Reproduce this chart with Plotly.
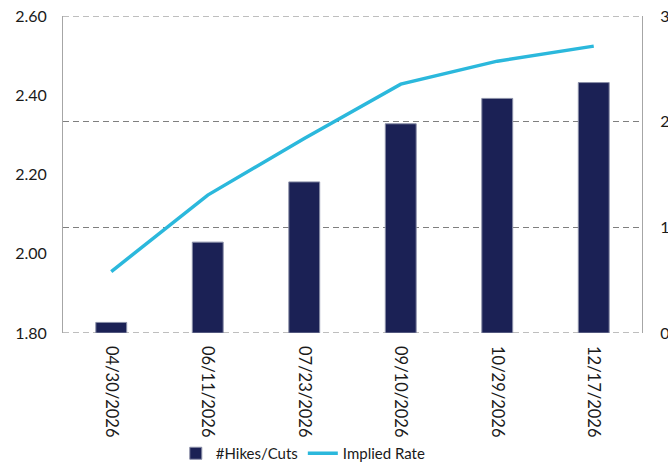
import plotly.graph_objects as go

dates = ["04/30/2026", "06/11/2026", "07/23/2026", "09/10/2026", "10/29/2026", "12/17/2026"]
hikes_cuts = [0.10, 0.86, 1.43, 1.98, 2.22, 2.37]
implied_rate = [1.955, 2.148, 2.291, 2.428, 2.486, 2.524]
left_ticks = [1.80, 2.00, 2.20, 2.40, 2.60]
right_ticks = [0, 1, 2, 3]

FONT = "Lato"
GRID = "#7F7F7F"
fig = go.Figure()
fig.add_trace(go.Bar(
    x=dates, y=hikes_cuts, name="#Hikes/Cuts", yaxis="y2",
    marker=dict(color="#1B2155", line=dict(color="#8A8FA8", width=1)),
))
fig.add_trace(go.Scatter(
    x=dates, y=implied_rate, name="Implied Rate", mode="lines", yaxis="y",
    line=dict(color="#2BB8DC", width=3.5),
))

# dashed gridlines at the range ends of the right axis (plotly skips them)
for v in (right_ticks[0], right_ticks[-1]):
    fig.add_shape(type="line", xref="paper", x0=0, x1=1, yref="y2", y0=v, y1=v,
                  line=dict(color=GRID, width=1.2, dash="6px,4px"), layer="below")

fig.update_layout(
    width=668, height=470,
    margin=dict(l=63, r=26, t=16, b=137),
    paper_bgcolor="white", plot_bgcolor="white",
    font=dict(family=FONT, size=15, color="#1a1a1a"),
    bargap=0.68,
    showlegend=True,
    legend=dict(orientation="h", x=0.415, xanchor="center", yref="container",
                y=0.0, yanchor="bottom", font=dict(size=15), traceorder="normal",
                itemwidth=30, tracegroupgap=0),
    xaxis=dict(type="category", tickangle=90, showgrid=False, showline=False,
               ticks="", zeroline=False, automargin=False, ticklabelstandoff=12,
               tickfont=dict(size=16.5)),
    yaxis=dict(range=[1.80, 2.60], tickvals=left_ticks, tickformat=".2f",
               showgrid=False, zeroline=False, showline=True, linecolor="#A6A6A6",
               linewidth=1, ticks="", ticklabelstandoff=12, automargin=False,
               tickfont=dict(size=16)),
    yaxis2=dict(range=[0, 3], tickvals=right_ticks, overlaying="y", side="right",
                showgrid=True, gridcolor=GRID, griddash="6px,4px", gridwidth=1.2,
                zeroline=False, showline=True, linecolor="#A6A6A6", linewidth=1,
                ticks="", ticklabelstandoff=14, automargin=False,
                tickfont=dict(size=16)),
)
fig.write_html("out.html")
